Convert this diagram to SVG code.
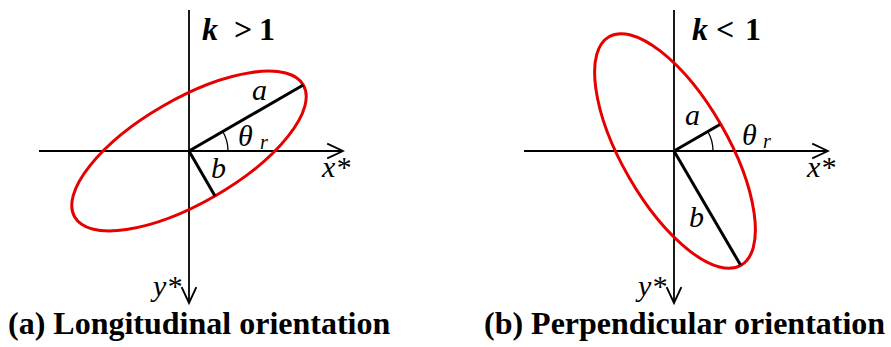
<svg xmlns="http://www.w3.org/2000/svg" width="891" height="347" viewBox="0 0 891 347">
<style>
.axis{stroke:#000;stroke-width:1.8;fill:none}
.semi{stroke:#000;stroke-width:3;fill:none}
.ell{stroke:#e60000;stroke-width:3;fill:none}
.arc{stroke:#000;stroke-width:1.3;fill:none}
.it{font-family:"Liberation Serif","Times New Roman",serif;font-style:italic;font-size:30px;fill:#000}
.sub{font-family:"Liberation Serif","Times New Roman",serif;font-style:italic;font-size:20px;fill:#000}
.k{font-family:"Liberation Serif","Times New Roman",serif;font-weight:bold;font-size:32px;fill:#000}
.cap{font-family:"Liberation Serif","Times New Roman",serif;font-weight:bold;font-size:32px;fill:#000}
</style>
<defs>
<marker id="arr" markerUnits="userSpaceOnUse" markerWidth="20" markerHeight="20" viewBox="-17 -9 19 18" refX="0" refY="0" orient="auto">
<path d="M-15,-7 L0,0 L-15,7" stroke="#000" stroke-width="1.8" fill="none"/>
</marker>
</defs>
<rect width="891" height="347" fill="#fff"/>
<g id="panel-a">
<g id="axes-a">
<line class="axis" x1="39" y1="151" x2="343" y2="151" marker-end="url(#arr)"/>
<line class="axis" x1="189" y1="10" x2="189" y2="303" marker-end="url(#arr)"/>
</g>
<g id="ellipse-a">
<ellipse class="ell" cx="189" cy="151" rx="132" ry="52" transform="rotate(-30 189 151)"/>
</g>
<g id="semiaxes-a">
<line class="semi" x1="189" y1="151" x2="303.3" y2="85"/>
<line class="semi" x1="189" y1="151" x2="215" y2="196"/>
<path class="arc" d="M228,151 A39,39 0 0 0 222.8,131.5"/>
</g>
<text class="k" x="202" y="40"><tspan font-style="italic">k</tspan><tspan x="234">&gt;</tspan><tspan x="259">1</tspan></text>
<text class="it" x="252" y="100">a</text>
<text class="it" x="211" y="178">b</text>
<text class="it" x="238" y="146">θ</text>
<text class="sub" x="260" y="149">r</text>
<text class="it" x="322" y="177">x*</text>
<text class="it" x="153" y="296">y*</text>
<text class="cap" x="8" y="334">(a) Longitudinal orientation</text>
</g>
<g id="panel-b">
<g id="axes-b">
<line class="axis" x1="524" y1="151" x2="828" y2="151" marker-end="url(#arr)"/>
<line class="axis" x1="674" y1="10" x2="674" y2="303" marker-end="url(#arr)"/>
</g>
<g id="ellipse-b">
<ellipse class="ell" cx="675" cy="151" rx="132" ry="53" transform="rotate(60 675 151)"/>
</g>
<g id="semiaxes-b">
<line class="semi" x1="674" y1="151" x2="719.9" y2="124.5"/>
<line class="semi" x1="674" y1="151" x2="740.5" y2="265"/>
<path class="arc" d="M713,151 A39,39 0 0 0 707.8,131.5"/>
</g>
<text class="k" x="692" y="40"><tspan font-style="italic">k</tspan><tspan x="716">&lt;</tspan><tspan x="745">1</tspan></text>
<text class="it" x="685" y="125">a</text>
<text class="it" x="689" y="227">b</text>
<text class="it" x="742" y="145">θ</text>
<text class="sub" x="763" y="148">r</text>
<text class="it" x="807" y="177">x*</text>
<text class="it" x="638" y="296">y*</text>
<text class="cap" x="484" y="334">(b) Perpendicular orientation</text>
</g>
</svg>
